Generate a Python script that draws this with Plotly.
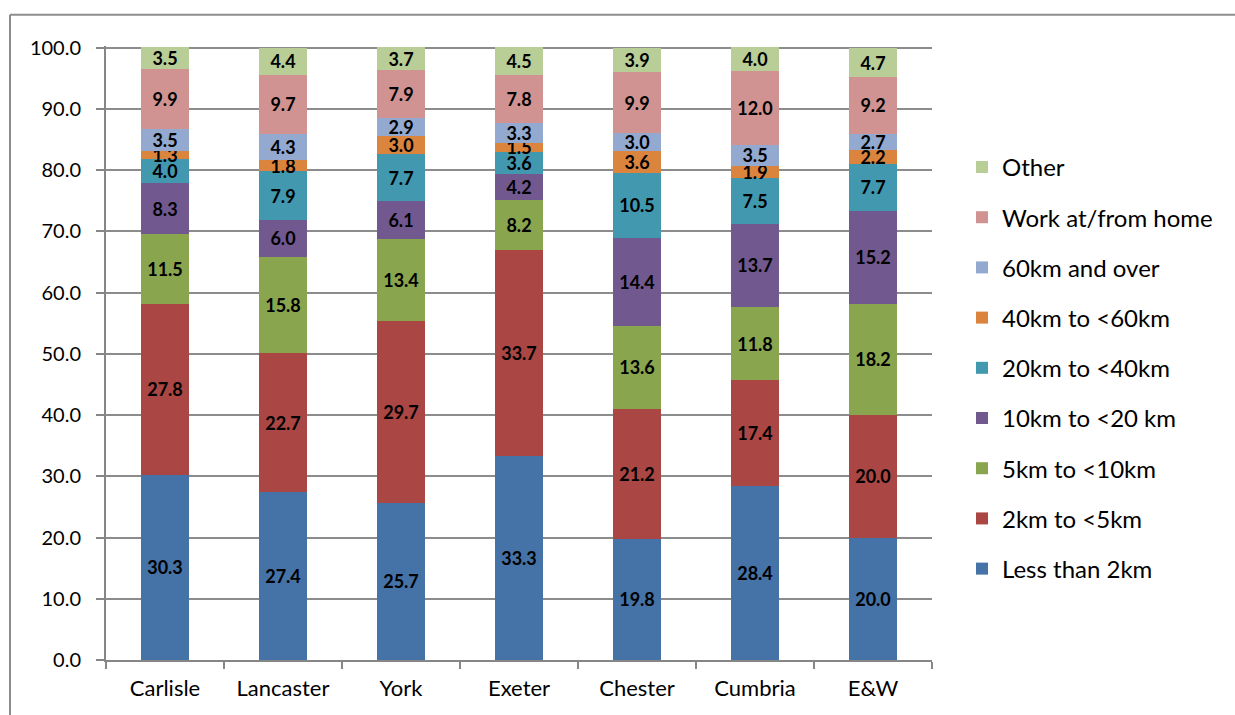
import plotly.graph_objects as go

categories = ["Carlisle", "Lancaster", "York", "Exeter", "Chester", "Cumbria", "E&W"]

series_names = [
    "Less than 2km", "2km to <5km", "5km to <10km", "10km to <20 km",
    "20km to <40km", "40km to <60km", "60km and over", "Work at/from home", "Other",
]
less_2km = [30.3, 27.4, 25.7, 33.3, 19.8, 28.4, 20.0]
km2_5 = [27.8, 22.7, 29.7, 33.7, 21.2, 17.4, 20.0]
km5_10 = [11.5, 15.8, 13.4, 8.2, 13.6, 11.8, 18.2]
km10_20 = [8.3, 6.0, 6.1, 4.2, 14.4, 13.7, 15.2]
km20_40 = [4.0, 7.9, 7.7, 3.6, 10.5, 7.5, 7.7]
km40_60 = [1.3, 1.8, 3.0, 1.5, 3.6, 1.9, 2.2]
km60_plus = [3.5, 4.3, 2.9, 3.3, 3.0, 3.5, 2.7]
work_home = [9.9, 9.7, 7.9, 7.8, 9.9, 12.0, 9.2]
other = [3.5, 4.4, 3.7, 4.5, 3.9, 4.0, 4.7]

series_values = [less_2km, km2_5, km5_10, km10_20, km20_40, km40_60, km60_plus, work_home, other]
colors = ["#4572A7", "#AA4643", "#89A54E", "#71588F", "#4198AF",
          "#DB843D", "#93A9CF", "#D19392", "#B9CD96"]

FONT = "Lato"

fig = go.Figure()
for i, (name, vals, col) in enumerate(zip(series_names, series_values, colors)):
    fig.add_trace(go.Bar(
        x=categories, y=vals, name=name,
        marker=dict(color=col, line=dict(width=0)),
        text=[f"{v:.1f}" for v in vals],
        textposition="inside", insidetextanchor="middle",
        textangle=0, constraintext="none",
        textfont=dict(family=FONT, size=18, color="black", weight="bold"),
        legendgroup=f"g{i}", legendrank=100 - i,
        cliponaxis=False,
    ))

W, H = 1235, 715
L, R = 106, 932
Y0PX, Y100PX = 660, 48
UNIT = (Y0PX - Y100PX) / 100.0
YTOP = 100.3
T = Y0PX - UNIT * YTOP
B = Y0PX
pw, ph = R - L, B - T

def px_x(p):
    return (p - L) / pw

def px_y(p):
    return (B - p) / ph

fig.update_layout(
    width=W, height=H,
    margin=dict(l=L, r=W - R, t=T, b=H - B, pad=0),
    barmode="stack", bargap=0.6,
    paper_bgcolor="white", plot_bgcolor="white",
    font=dict(family=FONT, size=20, color="black"),
    showlegend=True,
    legend=dict(
        traceorder="grouped", tracegroupgap=16,
        x=px_x(962), xanchor="left", y=px_y(368), yanchor="middle",
        font=dict(family=FONT, size=24, color="black"),
        bgcolor="rgba(0,0,0,0)", itemwidth=30,
    ),
    xaxis=dict(
        type="category", showline=True, linecolor="#868686", linewidth=2,
        ticks="outside", tickson="boundaries", ticklen=7, tickcolor="#868686", tickwidth=2,
        showgrid=False, tickfont=dict(size=22), ticklabelstandoff=8,
    ),
    yaxis=dict(
        range=[0, YTOP], tickvals=[0, 10, 20, 30, 40, 50, 60, 70, 80, 90, 100],
        tickformat=".1f", showline=True, linecolor="#868686", linewidth=2,
        ticks="outside", ticklen=8, tickcolor="#868686", tickwidth=2,
        showgrid=True, gridcolor="#8c8c8c", gridwidth=2, zeroline=False,
        tickfont=dict(size=20), ticklabelstandoff=11,
    ),
    uniformtext=dict(minsize=18, mode="show"),
    shapes=[
        dict(type="line", xref="paper", yref="paper",
             x0=px_x(10), x1=px_x(1240), y0=px_y(15), y1=px_y(15),
             line=dict(color="#8c8c8c", width=2)),
        dict(type="line", xref="paper", yref="paper",
             x0=px_x(10), x1=px_x(10), y0=px_y(15), y1=px_y(720),
             line=dict(color="#8c8c8c", width=2)),
    ],
)

fig.write_html("out.html")
